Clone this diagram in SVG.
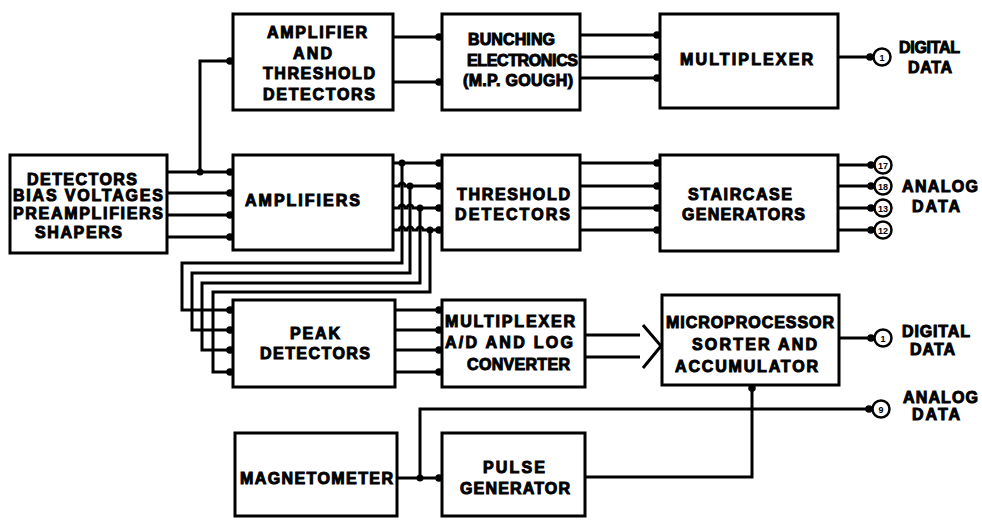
<svg xmlns="http://www.w3.org/2000/svg" width="982" height="523" viewBox="0 0 982 523">
<style>
.box{fill:#fff;stroke:#000;stroke-width:3}
.ln{fill:none;stroke:#000;stroke-width:3;stroke-linejoin:miter}
.ar{marker-end:url(#dot)}
.t{font-family:"Liberation Sans",Arial,sans-serif;font-weight:bold;font-size:16px;fill:#000;stroke:#000;stroke-width:1}
.n{font-family:"Liberation Sans",Arial,sans-serif;font-weight:bold;font-size:9px;fill:#000;text-anchor:middle}
.c{fill:#fff;stroke:#000;stroke-width:2.5}
.j{fill:#000}
</style>
<defs>
<marker id="dot" markerUnits="userSpaceOnUse" viewBox="-4 -4 8 8" refX="3" refY="0" markerWidth="8" markerHeight="8" orient="auto">
<circle cx="0" cy="0" r="3.8" fill="#000"/>
</marker>
</defs>
<rect width="982" height="523" fill="#fff"/>

<g id="connectors">
<path class="ln ar" d="M167,172 H233"/>
<path class="ln ar" d="M167,193 H233"/>
<path class="ln ar" d="M167,215 H233"/>
<path class="ln ar" d="M167,237 H233"/>
<path class="ln ar" d="M200,172 V61 H233"/>
<circle class="j" cx="200" cy="172" r="3.5"/>
<path class="ln ar" d="M393,37 H442"/>
<path class="ln ar" d="M393,82 H442"/>
<path class="ln ar" d="M580,35 H660"/>
<path class="ln ar" d="M580,57 H660"/>
<path class="ln ar" d="M580,78 H660"/>
<path class="ln ar" d="M838,57 H873"/>
<path class="ln ar" d="M393,163 H442"/>
<path class="ln ar" d="M393,186 H399 a3,3 0 0 1 6,0 H442"/>
<path class="ln ar" d="M393,208 H399 a3,3 0 0 1 6,0 H407 a3,3 0 0 1 6,0 H442"/>
<path class="ln ar" d="M393,230 H399 a3,3 0 0 1 6,0 H407 a3,3 0 0 1 6,0 H417 a3,3 0 0 1 6,0 H442"/>
<path class="ln ar" d="M402,163 V263 H182 V310 H233"/>
<path class="ln ar" d="M410,186 V273 H192 V330 H233"/>
<path class="ln ar" d="M420,208 V283 H202 V350 H233"/>
<path class="ln ar" d="M430,230 V292 H213 V372 H233"/>
<circle class="j" cx="402" cy="163" r="3.5"/>
<circle class="j" cx="410" cy="186" r="3.5"/>
<circle class="j" cx="420" cy="208" r="3.5"/>
<circle class="j" cx="430" cy="230" r="3.5"/>
<path class="ln ar" d="M580,163 H660"/>
<path class="ln ar" d="M580,186 H660"/>
<path class="ln ar" d="M580,208 H660"/>
<path class="ln ar" d="M580,230 H660"/>
<path class="ln ar" d="M838,165 H874"/>
<path class="ln ar" d="M838,186 H874"/>
<path class="ln ar" d="M838,208 H874"/>
<path class="ln ar" d="M838,230 H874"/>
<path class="ln ar" d="M395,310 H442"/>
<path class="ln ar" d="M395,330 H442"/>
<path class="ln ar" d="M395,350 H442"/>
<path class="ln ar" d="M395,372 H442"/>
<path class="ln" d="M585,335 H640"/>
<path class="ln" d="M585,357 H640"/>
<path class="ln" d="M643,325 L661,346 L643,368"/>
<path class="ln ar" d="M839,338 H874"/>
<path class="ln ar" d="M397,478 H442"/>
<path class="ln ar" d="M420,478 V409 H872"/>
<circle class="j" cx="420" cy="478" r="3.5"/>
<path class="ln ar" d="M585,477 H752 V385"/>
</g>

<g id="detectors">
<rect class="box" x="10" y="155" width="157" height="98"/>
<text class="t" x="27" y="185" textLength="110" lengthAdjust="spacing">DETECTORS</text>
<text class="t" x="13" y="201" textLength="150" lengthAdjust="spacing">BIAS VOLTAGES</text>
<text class="t" x="13" y="219" textLength="150" lengthAdjust="spacing">PREAMPLIFIERS</text>
<text class="t" x="35" y="238" textLength="87" lengthAdjust="spacing">SHAPERS</text>
</g>

<g id="amp-threshold">
<rect class="box" x="233" y="14" width="160" height="96"/>
<text class="t" x="267" y="38" textLength="100" lengthAdjust="spacing">AMPLIFIER</text>
<text class="t" x="293" y="59" textLength="39" lengthAdjust="spacing">AND</text>
<text class="t" x="263" y="79" textLength="112" lengthAdjust="spacing">THRESHOLD</text>
<text class="t" x="263" y="100" textLength="112" lengthAdjust="spacing">DETECTORS</text>
</g>

<g id="amplifiers">
<rect class="box" x="233" y="155" width="160" height="95"/>
<text class="t" x="245" y="206" textLength="115" lengthAdjust="spacing">AMPLIFIERS</text>
</g>

<g id="bunching">
<rect class="box" x="442" y="14" width="138" height="96"/>
<text class="t" x="468" y="45" textLength="87" lengthAdjust="spacing">BUNCHING</text>
<text class="t" x="467" y="66" textLength="111" lengthAdjust="spacing">ELECTRONICS</text>
<text class="t" x="463" y="86" textLength="110" lengthAdjust="spacing">(M.P. GOUGH)</text>
</g>

<g id="multiplexer">
<rect class="box" x="660" y="14" width="178" height="94"/>
<text class="t" x="680" y="65" textLength="133" lengthAdjust="spacing">MULTIPLEXER</text>
</g>

<g id="digital-data-1">
<circle class="c" cx="882" cy="57" r="8.5"/>
<text class="n" x="882" y="60.5">1</text>
<text class="t" x="899" y="53" textLength="61" lengthAdjust="spacing">DIGITAL</text>
<text class="t" x="908" y="73" textLength="44" lengthAdjust="spacing">DATA</text>
</g>

<g id="threshold-detectors">
<rect class="box" x="442" y="155" width="138" height="95"/>
<text class="t" x="457" y="200" textLength="113" lengthAdjust="spacing">THRESHOLD</text>
<text class="t" x="455" y="220" textLength="115" lengthAdjust="spacing">DETECTORS</text>
</g>

<g id="staircase">
<rect class="box" x="660" y="155" width="178" height="96"/>
<text class="t" x="688" y="200" textLength="104" lengthAdjust="spacing">STAIRCASE</text>
<text class="t" x="682" y="220" textLength="123" lengthAdjust="spacing">GENERATORS</text>
</g>

<g id="analog-data-1">
<circle class="c" cx="883" cy="165" r="8.5"/>
<text class="n" x="883" y="168.5">17</text>
<circle class="c" cx="883" cy="186" r="8.5"/>
<text class="n" x="883" y="189.5">18</text>
<circle class="c" cx="883" cy="208" r="8.5"/>
<text class="n" x="883" y="211.5">13</text>
<circle class="c" cx="883" cy="230" r="8.5"/>
<text class="n" x="883" y="233.5">12</text>
<text class="t" x="902" y="192" textLength="76" lengthAdjust="spacing">ANALOG</text>
<text class="t" x="912" y="212" textLength="48" lengthAdjust="spacing">DATA</text>
</g>

<g id="peak-detectors">
<rect class="box" x="233" y="300" width="162" height="87"/>
<text class="t" x="290" y="339" textLength="50" lengthAdjust="spacing">PEAK</text>
<text class="t" x="260" y="359" textLength="110" lengthAdjust="spacing">DETECTORS</text>
</g>

<g id="multiplexer-ad">
<rect class="box" x="442" y="300" width="143" height="87"/>
<text class="t" x="445" y="327" textLength="130" lengthAdjust="spacing">MULTIPLEXER</text>
<text class="t" x="445" y="348" textLength="128" lengthAdjust="spacing">A/D AND LOG</text>
<text class="t" x="467" y="370" textLength="103" lengthAdjust="spacing">CONVERTER</text>
</g>

<g id="microprocessor">
<rect class="box" x="662" y="295" width="177" height="90"/>
<text class="t" x="666" y="328" textLength="168" lengthAdjust="spacing">MICROPROCESSOR</text>
<text class="t" x="692" y="350" textLength="125" lengthAdjust="spacing">SORTER AND</text>
<text class="t" x="675" y="372" textLength="143" lengthAdjust="spacing">ACCUMULATOR</text>
</g>

<g id="digital-data-2">
<circle class="c" cx="883" cy="338" r="8.5"/>
<text class="n" x="883" y="341.5">1</text>
<text class="t" x="902" y="337" textLength="68" lengthAdjust="spacing">DIGITAL</text>
<text class="t" x="910" y="355" textLength="45" lengthAdjust="spacing">DATA</text>
</g>

<g id="analog-data-2">
<circle class="c" cx="881" cy="409" r="8.5"/>
<text class="n" x="881" y="412.5">9</text>
<text class="t" x="903" y="403" textLength="75" lengthAdjust="spacing">ANALOG</text>
<text class="t" x="912" y="420" textLength="48" lengthAdjust="spacing">DATA</text>
</g>

<g id="magnetometer">
<rect class="box" x="235" y="433" width="162" height="83"/>
<text class="t" x="240" y="484" textLength="153" lengthAdjust="spacing">MAGNETOMETER</text>
</g>

<g id="pulse-generator">
<rect class="box" x="442" y="433" width="143" height="83"/>
<text class="t" x="483" y="473" textLength="62" lengthAdjust="spacing">PULSE</text>
<text class="t" x="460" y="494" textLength="110" lengthAdjust="spacing">GENERATOR</text>
</g>
</svg>
